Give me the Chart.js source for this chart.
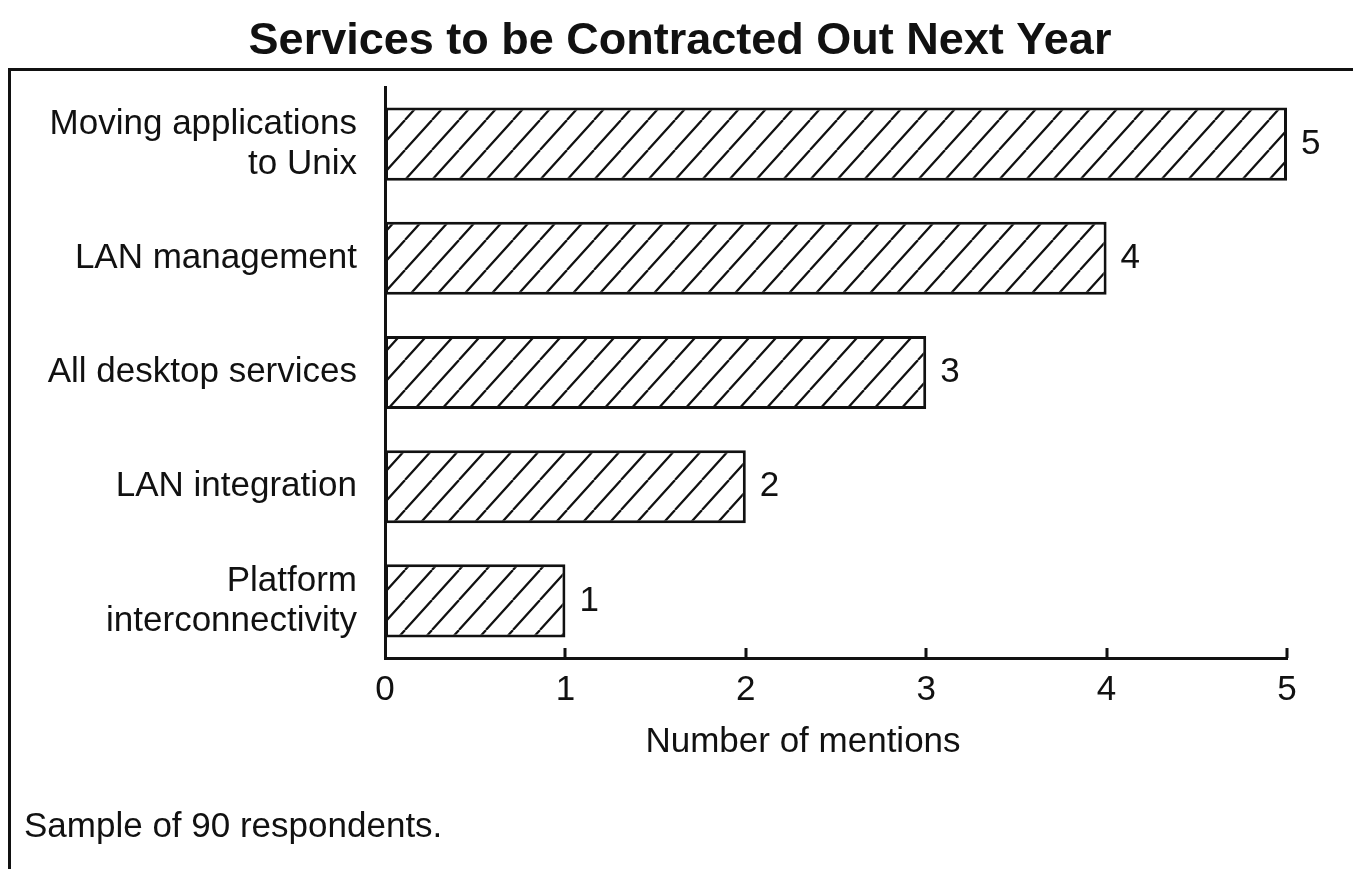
<!DOCTYPE html>
<html>
<head>
<meta charset="utf-8">
<title>Services to be Contracted Out Next Year</title>
<script src="https://cdn.jsdelivr.net/npm/chart.js@4.4.1/dist/chart.umd.min.js"></script>
<style>
  html, body { margin: 0; padding: 0; background: #fff; }
  canvas { display: block; }
</style>
</head>
<body>
<canvas id="servicesChart" width="1353" height="869"></canvas>
<script>
// Services and how many respondents mentioned each one
const services = [
  ['Moving applications', 'to Unix'],
  'LAN management',
  'All desktop services',
  'LAN integration',
  ['Platform', 'interconnectivity']
];
const mentions = [5, 4, 3, 2, 1];
const mentionTicks = [0, 1, 2, 3, 4, 5];

const chartTitle = 'Services to be Contracted Out Next Year';
const axisTitle = 'Number of mentions';
const footnote = 'Sample of 90 respondents.';

const FONT = '"Liberation Sans", Arial, Helvetica, sans-serif';
const INK = '#111';

// diagonal "/" hatching used to fill the bars
function makeHatch() {
  const w = 27, h = 30;
  const tile = document.createElement('canvas');
  tile.width = w;
  tile.height = h;
  const c = tile.getContext('2d');
  c.fillStyle = '#fff';
  c.fillRect(0, 0, w, h);
  c.strokeStyle = INK;
  c.lineWidth = 2.2;
  c.beginPath();
  for (let k = -1; k <= 1; k++) {
    c.moveTo(k * w, h);
    c.lineTo(k * w + w, 0);
  }
  c.stroke();
  return c.createPattern(tile, 'repeat');
}

// frame, inward tick marks, value labels and the loose text
const decorations = {
  id: 'decorations',
  beforeDraw(chart) {
    const ctx = chart.ctx;
    ctx.save();
    ctx.strokeStyle = INK;
    ctx.lineWidth = 3;
    ctx.beginPath();
    ctx.moveTo(8, 69.5);
    ctx.lineTo(chart.width, 69.5);
    ctx.moveTo(9.5, 68);
    ctx.lineTo(9.5, chart.height);
    ctx.stroke();
    ctx.restore();
  },
  afterDatasetsDraw(chart) {
    const ctx = chart.ctx;
    const x = chart.scales.x;
    const bottom = chart.chartArea.bottom;
    ctx.save();

    // short ticks pointing up from the x axis
    ctx.strokeStyle = INK;
    ctx.lineWidth = 3;
    ctx.beginPath();
    x.ticks.forEach(function(t) {
      if (t.value === 0) return;
      const px = Math.round(x.getPixelForValue(t.value));
      ctx.moveTo(px, bottom);
      ctx.lineTo(px, bottom - 10);
    });
    ctx.stroke();

    // value next to the end of each bar
    ctx.fillStyle = INK;
    ctx.font = '35px ' + FONT;
    ctx.textAlign = 'left';
    ctx.textBaseline = 'middle';
    chart.getDatasetMeta(0).data.forEach(function(bar, i) {
      ctx.fillText(String(mentions[i]), bar.x + 14, bar.y);
    });
    ctx.restore();
  },
  afterDraw(chart) {
    const ctx = chart.ctx;
    ctx.save();
    ctx.fillStyle = INK;
    ctx.textBaseline = 'middle';

    ctx.font = 'bold 45px ' + FONT;
    ctx.textAlign = 'center';
    ctx.fillText(chartTitle, 680, 42);

    ctx.font = '35px ' + FONT;
    ctx.fillText(axisTitle, 803, 742);

    ctx.textAlign = 'left';
    ctx.fillText(footnote, 24, 827);
    ctx.restore();
  }
};

const ctx = document.getElementById('servicesChart').getContext('2d');
const chart = new Chart(ctx, {
  type: 'bar',
  data: {
    labels: services,
    datasets: [{
      data: mentions,
      backgroundColor: makeHatch(),
      borderColor: INK,
      borderWidth: 3,
      borderSkipped: false,
      categoryPercentage: 1,
      barPercentage: 0.64
    }]
  },
  options: {
    indexAxis: 'y',
    responsive: false,
    animation: false,
    devicePixelRatio: 1,
    layout: { padding: { top: 87, right: 66, bottom: 147, left: 0 } },
    plugins: {
      legend: { display: false },
      title: { display: false },
      tooltip: { enabled: false }
    },
    scales: {
      x: {
        type: 'linear',
        min: 0,
        max: 5,
        afterBuildTicks: function(scale) {
          scale.ticks = mentionTicks.map(function(v) { return { value: v }; });
        },
        ticks: {
          padding: 11,
          color: INK,
          font: { family: FONT, size: 35 }
        },
        grid: { display: false, drawTicks: false },
        border: { display: true, color: INK, width: 3 }
      },
      y: {
        ticks: {
          padding: 28,
          color: INK,
          font: { family: FONT, size: 35, lineHeight: 1.14 }
        },
        grid: { display: false, drawTicks: false },
        border: { display: true, color: INK, width: 3 },
        afterFit: function(scale) { scale.width = 385; }
      }
    }
  },
  plugins: [decorations]
});
</script>
</body>
</html>
